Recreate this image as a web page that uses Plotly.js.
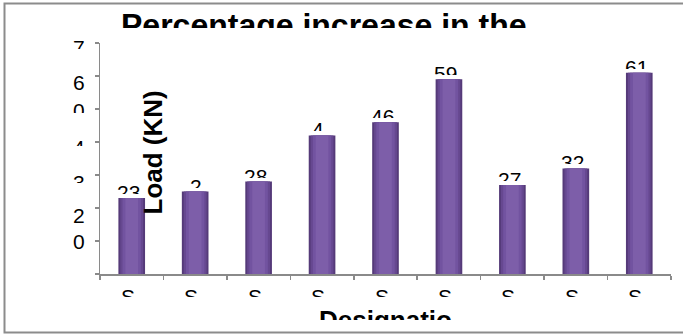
<!DOCTYPE html>
<html>
<head>
<meta charset="utf-8">
<script src="https://cdn.plot.ly/plotly-3.0.1.min.js"></script>
<style>
  html, body { margin: 0; padding: 0; background: #fff; overflow: hidden; }
  #chart { width: 683px; height: 334px; }
</style>
</head>
<body>
<div id="chart"></div>
<script>
// Load increase per specimen designation (%)
const designations = ['S1', 'S2', 'S3', 'S4', 'S5', 'S6', 'S7', 'S8', 'S9'];
const loadIncrease = [23, 25, 28, 42, 46, 59, 27, 32, 61];

// Value-axis labels as printed next to each tick
const yTickVals = [10, 20, 30, 40, 50, 60, 70];
const yTickText = ['0', '2', '3', '4', '0', '6', '7'];

const chartTitle = 'Percentage increase in the';
const xTitle = 'Designatio';
const yTitle = 'Load (KN)';

// ---- geometry helpers (page pixels -> paper coordinates) ----
const W = 683, H = 334;
const M = { l: 100, r: 12, t: 43, b: 60 };
const PW = W - M.l - M.r, PH = H - M.t - M.b;
const px = x => (x - M.l) / PW;
const py = y => (H - M.b - y) / PH;

const FONT = '"Liberation Sans", Arial, sans-serif';
const AXIS_GREY = '#8a8a8a';
// distance from the top of a text box to the top of its glyphs, per px of font size
const CAP_OFF = 0.26;

// bevelled bar look: stacked layers of the same series, narrowing inwards
const barLayers = [
  { w: 0.42, c: '#553a79' },
  { w: 0.36, c: '#664890' },
  { w: 0.29, c: '#7253a0' },
  { w: 0.20, c: '#7d5ea9' }
];
const traces = barLayers.map(L => ({
  type: 'bar',
  x: designations,
  y: loadIncrease,
  width: L.w,
  marker: { color: L.c, line: { width: 0 } },
  hoverinfo: 'skip',
  showlegend: false
}));

// text boxes are sized so that their text is cropped, like the original labels
const annotations = [];
const base = { showarrow: false, borderpad: 0, borderwidth: 0 };

annotations.push(Object.assign({}, base, {
  xref: 'paper', yref: 'paper', x: px(324), y: py(15 - CAP_OFF * 32),
  xanchor: 'center', yanchor: 'top', height: 21, valign: 'top',
  text: chartTitle,
  font: { family: FONT, size: 32, color: '#000', weight: 700 }
}));

annotations.push(Object.assign({}, base, {
  xref: 'paper', yref: 'paper', x: 0.5, y: py(311.7 - CAP_OFF * 26),
  xanchor: 'center', yanchor: 'top', height: 15, valign: 'top',
  text: xTitle,
  font: { family: FONT, size: 26, color: '#000', weight: 700 }
}));

// value labels above the bars
const labelFit = loadIncrease.map((v, i) =>
  i === 1 ? { w: 12, dx: 1 } : i === 3 ? { w: 12, dx: -4.5 } : { w: null, dx: -3 });
designations.forEach((c, i) => {
  const a = Object.assign({}, base, {
    xref: 'x', yref: 'y', x: c, y: loadIncrease[i],
    xanchor: 'center', yanchor: 'bottom', xshift: labelFit[i].dx, yshift: 4,
    height: 13, valign: 'top', align: 'left',
    text: String(loadIncrease[i]),
    font: { family: FONT, size: 21, color: '#000' }
  });
  if (labelFit[i].w) a.width = labelFit[i].w;
  annotations.push(a);
});

// category labels
designations.forEach(c => {
  annotations.push(Object.assign({}, base, {
    xref: 'x', yref: 'paper', x: c, y: py(290.5 - CAP_OFF * 21),
    xanchor: 'center', yanchor: 'top', xshift: -4,
    width: 14, height: 12, align: 'left', valign: 'top',
    text: c,
    font: { family: FONT, size: 21, color: '#000' }
  }));
});

// value-axis labels: glyph top relative to the tick (px) and visible height
const yLabelFit = [{ d: -6 }, { d: 1 }, { d: 1.7, v: 6.6 }, { d: -0.3, v: 5 },
                   { d: -5, v: 9 }, { d: 0.7 }, { d: -1.3, v: 7.6 }];
const yOff = CAP_OFF * 21;
yTickVals.forEach((v, i) => {
  const f = yLabelFit[i];
  const a = Object.assign({}, base, {
    xref: 'paper', yref: 'y', x: px(84.5), y: v,
    xanchor: 'right', yanchor: 'top', yshift: yOff - f.d,
    valign: 'top',
    text: yTickText[i],
    font: { family: FONT, size: 21, color: '#000' }
  });
  if (f.v) a.height = Math.round(yOff + f.v);
  annotations.push(a);
});

// axis title, drawn last so it sits over the first bar
annotations.push(Object.assign({}, base, {
  xref: 'paper', yref: 'paper', x: px(152.5), y: py(153),
  xanchor: 'center', yanchor: 'middle', textangle: -90,
  text: yTitle,
  font: { family: FONT, size: 26, color: '#000', weight: 700 }
}));

const layout = {
  width: W, height: H,
  margin: M,
  paper_bgcolor: '#fff', plot_bgcolor: '#fff',
  barmode: 'overlay',
  showlegend: false,
  font: { family: FONT },
  xaxis: {
    type: 'category',
    showline: true, linecolor: AXIS_GREY, linewidth: 1.5,
    ticks: 'outside', tickson: 'boundaries', ticklen: 4, tickcolor: AXIS_GREY, tickwidth: 1.5,
    showticklabels: false, showgrid: false, zeroline: false, fixedrange: true
  },
  yaxis: {
    range: [0, 70], dtick: 10, tick0: 0,
    showline: true, linecolor: AXIS_GREY, linewidth: 1.5,
    ticks: 'outside', ticklen: 4, tickcolor: AXIS_GREY, tickwidth: 1.5,
    showticklabels: false, showgrid: false, zeroline: false, fixedrange: true
  },
  shapes: [{
    type: 'rect', xref: 'paper', yref: 'paper', layer: 'below',
    x0: px(4.5), x1: px(720), y0: py(332.5), y1: py(3.5),
    line: { color: '#8c8c8c', width: 2 }, fillcolor: 'rgba(0,0,0,0)'
  }],
  annotations: annotations
};

Plotly.newPlot('chart', traces, layout, { displayModeBar: false, staticPlot: true });
</script>
</body>
</html>
